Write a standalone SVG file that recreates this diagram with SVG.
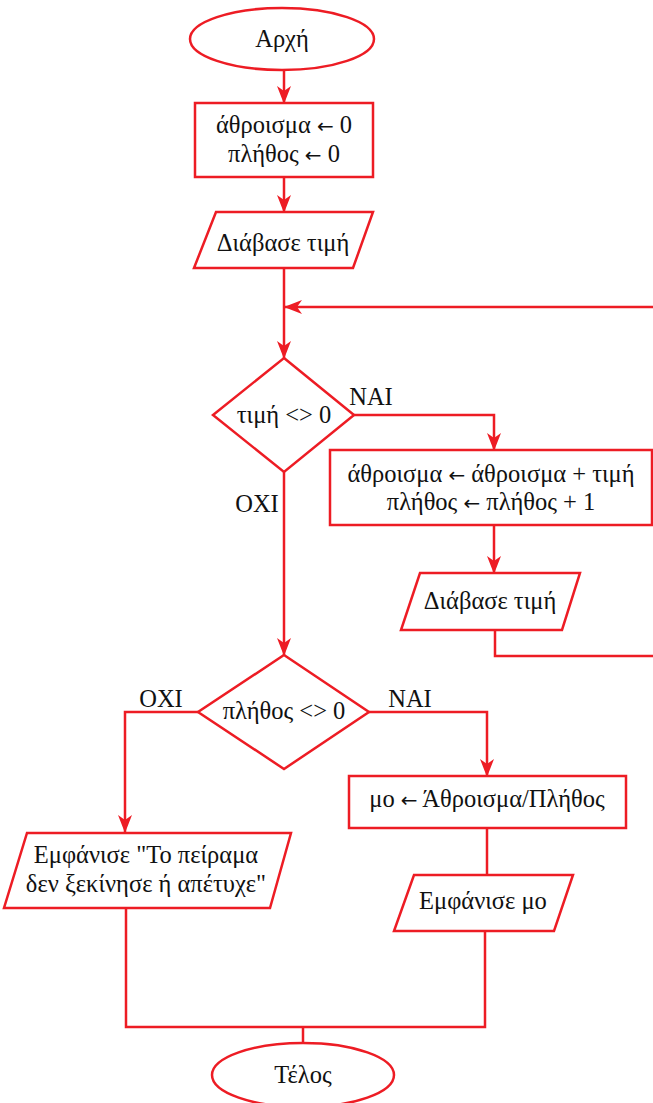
<svg xmlns="http://www.w3.org/2000/svg" width="653" height="1103" viewBox="0 0 653 1103">
  <style>
    .shape { fill: #ffffff; stroke: #ED1C24; stroke-width: 2.5; }
    .wire { fill: none; stroke: #ED1C24; stroke-width: 2.5; }
    .arrow { marker-end: url(#head); }
    text { font-family: "Liberation Serif", "DejaVu Serif", serif; font-size: 24.5px; fill: #111111; text-anchor: middle; }
    .arr { font-family: "DejaVu Sans", sans-serif; font-size: 20px; }
  </style>
  <defs>
    <marker id="head" markerUnits="userSpaceOnUse" markerWidth="18" markerHeight="14" viewBox="0 0 18 14" refX="17" refY="7" orient="auto">
      <path d="M0,0 L18,7 L0,14 L5,7 Z" fill="#ED1C24"/>
    </marker>
  </defs>

  <rect width="653" height="1103" fill="#ffffff"/>

  <!-- connectors -->
  <g id="connectors">
    <path class="wire arrow" d="M284,70 L284,103"/>
    <path class="wire arrow" d="M284,177 L284,212"/>
    <path class="wire arrow" d="M284,268 L284,358"/>
    <path class="wire arrow" d="M653,307 L285,307"/>
    <path class="wire arrow" d="M353,415 L494,415 L494,450"/>
    <path class="wire arrow" d="M494,525 L494,573"/>
    <path class="wire" d="M495,630 L495,656 L653,656"/>
    <path class="wire arrow" d="M284,472 L284,655"/>
    <path class="wire arrow" d="M198,712 L125,712 L125,832"/>
    <path class="wire arrow" d="M369,712 L487,712 L487,776"/>
    <path class="wire" d="M487,828 L487,875"/>
    <path class="wire" d="M126,908 L126,1027 L485,1027 L485,931"/>
    <path class="wire" d="M303,1027 L303,1043"/>
    <text x="371" y="405">NAI</text>
    <text x="257" y="512">OXI</text>
    <text x="161" y="707">OXI</text>
    <text x="410" y="707">NAI</text>
  </g>

  <g id="start">
    <ellipse class="shape" cx="282" cy="39" rx="92" ry="31"/>
    <text x="282" y="47">Αρχή</text>
  </g>

  <g id="init">
    <rect class="shape" x="195" y="103" width="178" height="74"/>
    <text x="284" y="133">άθροισμα <tspan class="arr">←</tspan> 0</text>
    <text x="284" y="162">πλήθος <tspan class="arr">←</tspan> 0</text>
  </g>

  <g id="read1">
    <polygon class="shape" points="216,212 373,212 353,268 194,268"/>
    <text x="283" y="251">Διάβασε τιμή</text>
  </g>

  <g id="cond1">
    <polygon class="shape" points="284,358 354,415 284,472 213,415"/>
    <text x="284" y="423">τιμή &lt;&gt; 0</text>
  </g>

  <g id="accumulate">
    <rect class="shape" x="330" y="450" width="322" height="75"/>
    <text x="491" y="482">άθροισμα <tspan class="arr">←</tspan> άθροισμα + τιμή</text>
    <text x="491" y="510">πλήθος <tspan class="arr">←</tspan> πλήθος + 1</text>
  </g>

  <g id="read2">
    <polygon class="shape" points="420,573 580,573 562,630 401,630"/>
    <text x="490" y="609">Διάβασε τιμή</text>
  </g>

  <g id="cond2">
    <polygon class="shape" points="284,655 369,712 284,769 198,712"/>
    <text x="284" y="719">πλήθος &lt;&gt; 0</text>
  </g>

  <g id="mean">
    <rect class="shape" x="349" y="776" width="277" height="52"/>
    <text x="487" y="807">μο <tspan class="arr">←</tspan> Άθροισμα/Πλήθος</text>
  </g>

  <g id="failmsg">
    <polygon class="shape" points="27,833 291,833 270,908 4,908"/>
    <text x="146" y="863">Εμφάνισε "Το πείραμα</text>
    <text x="146" y="892">δεν ξεκίνησε ή απέτυχε"</text>
  </g>

  <g id="showmean">
    <polygon class="shape" points="414,875 573,875 554,931 394,931"/>
    <text x="483" y="909">Εμφάνισε μο</text>
  </g>

  <g id="end">
    <ellipse class="shape" cx="303" cy="1075" rx="91" ry="32"/>
    <text x="303" y="1083">Τέλος</text>
  </g>
</svg>
